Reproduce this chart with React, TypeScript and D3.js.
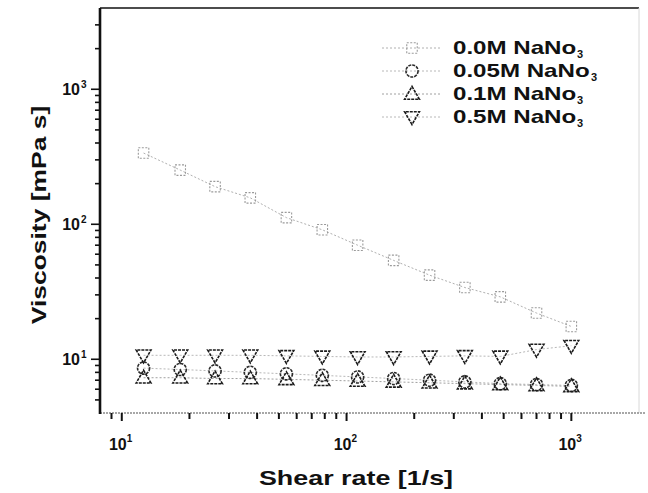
import * as d3 from "d3";

// shear rate [1/s] and viscosity [mPa s]
const shearRate = [12.5, 18.2, 26, 37.3, 54, 78, 112, 162, 234, 336, 483, 700, 1000];
const visc00 = [337, 252, 190, 157, 112, 91, 70, 54, 42, 34, 29, 22, 17.5];
const visc005 = [8.6, 8.4, 8.2, 8.0, 7.8, 7.6, 7.4, 7.2, 7.0, 6.8, 6.6, 6.5, 6.4];
const visc01 = [7.3, 7.3, 7.2, 7.2, 7.1, 7.0, 6.9, 6.8, 6.7, 6.6, 6.5, 6.4, 6.3];
const visc05 = [10.7, 10.7, 10.7, 10.7, 10.6, 10.5, 10.4, 10.4, 10.5, 10.6, 10.5, 11.8, 12.6];

const seriesNames = ["0.0M NaNo", "0.05M NaNo", "0.1M NaNo", "0.5M NaNo"];
const seriesValues = [visc00, visc005, visc01, visc05];
const markerTypes = ["square", "circle", "up", "down"];
const markerColors = ["#9a9a9a", "#2a2a2a", "#1a1a1a", "#1a1a1a"];
const lineColors = ["#b0b0b0", "#b8b8b8", "#a0a0a0", "#b8b8b8"];

const xMajor = [10, 100, 1000];
const yMajor = [10, 100, 1000];
const decadeExp = ["1", "2", "3"];

const W = 648;
const H = 493;
const FONT = "'Liberation Sans', Arial, sans-serif";

function markerPath(type: string) {
  if (type === "square") return d3.symbol().type(d3.symbolSquare).size(110)()!;
  if (type === "circle") return d3.symbol().type(d3.symbolCircle).size(115)()!;
  return d3.symbol().type(d3.symbolTriangle).size(95)()!;
}

function Marker({ type, cx, cy, color }: { type: string; cx: number; cy: number; color: string }) {
  const rot = type === "down" ? 180 : 0;
  const dy = type === "up" ? 1 : type === "down" ? -1 : 0;
  return (
    <path
      d={markerPath(type)}
      transform={`translate(${cx},${cy + dy}) rotate(${rot})`}
      fill="none"
      stroke={color}
      strokeWidth={type === "square" ? 1.1 : 1.6}
      strokeDasharray={type === "square" ? "2,1.5" : "3,1"}
    />
  );
}

export default function App() {
  const x = d3.scaleLog().domain([8, 2000]).range([100, 639]);
  const y = d3.scaleLog().domain([4, 4000]).range([413, 8]);

  const isMajor = (v: number) => Math.abs(Math.log10(v) - Math.round(Math.log10(v))) < 1e-6;
  const xTicks = x.ticks().filter((v) => x(v) > 101 && x(v) < 638);
  const yTicks = y.ticks().filter((v) => y(v) > 9 && y(v) < 412);

  const line = d3
    .line<number>()
    .x((_, i) => x(shearRate[i]))
    .y((d) => y(d));

  const legendY = [48, 71, 94, 117];

  return (
    <svg
      width={W}
      height={H}
      style={{ position: "absolute", left: 0, top: 0, background: "#fff" }}
      fontFamily={FONT}
    >
      <rect x={0} y={0} width={W} height={H} fill="#fff" />

      {/* frame */}
      <line x1={100} x2={639} y1={8} y2={8} stroke="#111" strokeWidth={1.6} />
      <line x1={639} x2={639} y1={8} y2={413} stroke="#d8d8d8" strokeWidth={1} />
      <line x1={100} x2={645} y1={413} y2={413} stroke="#8a8a8a" strokeWidth={1.6} strokeDasharray="2,1" />
      <line x1={100} x2={100} y1={8} y2={414} stroke="#111" strokeWidth={2.6} />

      {/* y ticks */}
      {yTicks.map((v) => (
        <line
          key={"yt" + v}
          x1={100}
          x2={isMajor(v) ? 91 : 95}
          y1={y(v)}
          y2={y(v)}
          stroke="#111"
          strokeWidth={1.6}
        />
      ))}
      {yMajor.map((v, i) => (
        <g key={"yl" + v}>
          <text x={80} y={y(v) + 6} textAnchor="end" fontSize={16} fontWeight="bold" fill="#111">
            10
          </text>
          <text x={81} y={y(v) - 1} fontSize={10} fontWeight="bold" fill="#111">
            {decadeExp[i]}
          </text>
        </g>
      ))}

      {/* x ticks */}
      {xTicks.map((v) => (
        <line
          key={"xt" + v}
          x1={x(v)}
          x2={x(v)}
          y1={413}
          y2={isMajor(v) ? 421 : 419}
          stroke="#111"
          strokeWidth={2}
        />
      ))}
      {xMajor.map((v, i) => (
        <g key={"xl" + v}>
          <text x={x(v) - 4} y={450} textAnchor="middle" fontSize={16} fontWeight="bold" fill="#111">
            10
          </text>
          <text x={x(v) + 5} y={442} fontSize={10} fontWeight="bold" fill="#111">
            {decadeExp[i]}
          </text>
        </g>
      ))}

      {/* axis titles */}
      <g transform="translate(356,485) scale(1.28,1)">
        <text x={0} y={0} textAnchor="middle" fontSize={21} fontWeight="bold" fill="#111">
          Shear rate [1/s]
        </text>
      </g>
      <g transform="translate(46,215) rotate(-90) scale(1.26,1)">
        <text x={0} y={0} textAnchor="middle" fontSize={21} fontWeight="bold" fill="#111">
          Viscosity [mPa s]
        </text>
      </g>

      {/* series */}
      {seriesValues.map((vals, s) => (
        <path
          key={"ln" + s}
          d={line(vals)!}
          fill="none"
          stroke={lineColors[s]}
          strokeWidth={1}
          strokeDasharray="2,2"
        />
      ))}
      {seriesValues.map((vals, s) =>
        vals.map((v, i) => (
          <Marker
            key={`m${s}-${i}`}
            type={markerTypes[s]}
            cx={x(shearRate[i])}
            cy={y(v)}
            color={markerColors[s]}
          />
        ))
      )}

      {/* legend */}
      {seriesNames.map((name, s) => (
        <g key={"lg" + s}>
          <line
            x1={382}
            x2={442}
            y1={legendY[s]}
            y2={legendY[s]}
            stroke={lineColors[s]}
            strokeWidth={1}
            strokeDasharray="2,2"
          />
          <Marker type={markerTypes[s]} cx={412} cy={legendY[s]} color={markerColors[s]} />
          <g transform={`translate(453,${legendY[s] + 6}) scale(1.34,1)`}>
            <text x={0} y={0} fontSize={18} fontWeight="bold" fill="#111">
              {name}
            </text>
          </g>
          <text
            x={453 + (name.length === 10 ? 138 : 124)}
            y={legendY[s] + 10}
            fontSize={11}
            fontWeight="bold"
            fill="#111"
          >
            3
          </text>
        </g>
      ))}
    </svg>
  );
}
